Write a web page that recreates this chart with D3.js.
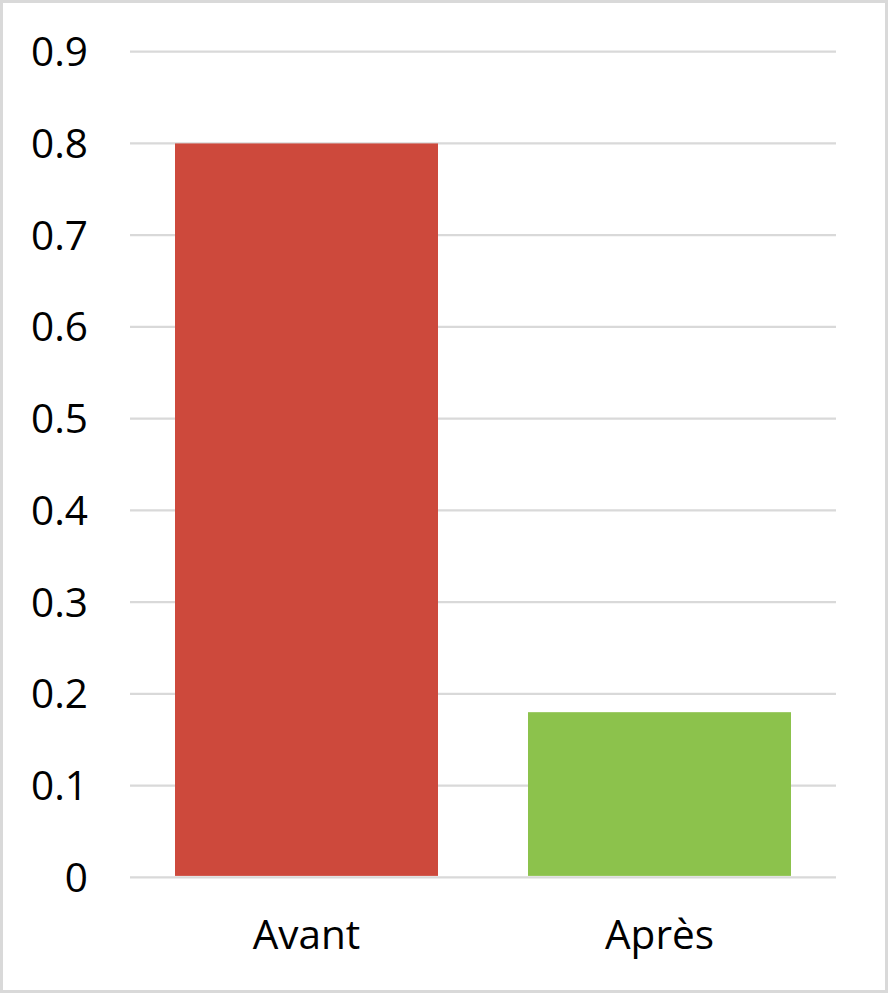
<!DOCTYPE html>
<html>
<head>
<meta charset="utf-8">
<script src="https://cdn.jsdelivr.net/npm/d3@7"></script>
<style>
  html, body { margin: 0; padding: 0; background: #fff; }
  svg { display: block; }
  text { font-family: "Open Sans", sans-serif; fill: #000; }
</style>
</head>
<body>
<svg id="chart" width="888" height="993"></svg>
<script>
const categories = ["Avant", "Après"];
const values = [0.8, 0.18];
const colors = ["#CD493C", "#8CC24C"];
const yTicks = [0, 0.1, 0.2, 0.3, 0.4, 0.5, 0.6, 0.7, 0.8, 0.9];

(function () {
const svg = d3.select("#chart");
const W = 888, H = 993;

// outer border
svg.append("rect")
  .attr("x", 1.5).attr("y", 1.5)
  .attr("width", W - 3).attr("height", H - 3)
  .attr("fill", "#fff")
  .attr("stroke", "#D9D9D9").attr("stroke-width", 3);

const mLeft = 130, mRight = 836, mTop = 51.7, mBottom = 877.3;

const y = d3.scaleLinear().domain([0, 0.9]).range([mBottom, mTop]);
const x = d3.scaleBand().domain(categories).range([mLeft, mRight]).paddingInner(0.255).paddingOuter(0.1275);

// gridlines
svg.append("g")
  .selectAll("line")
  .data(yTicks)
  .join("line")
  .attr("x1", mLeft).attr("x2", mRight)
  .attr("y1", d => y(d)).attr("y2", d => y(d))
  .attr("stroke", "#D9D9D9").attr("stroke-width", 2.2);

// bars
svg.append("g")
  .selectAll("rect")
  .data(categories)
  .join("rect")
  .attr("x", d => x(d))
  .attr("width", x.bandwidth())
  .attr("y", (d, i) => y(values[i]))
  .attr("height", (d, i) => y(0) - 1.4 - y(values[i]))
  .attr("fill", (d, i) => colors[i]);

// y axis labels
svg.append("g")
  .selectAll("text")
  .data(yTicks)
  .join("text")
  .attr("x", 88)
  .attr("y", d => y(d))
  .attr("dy", "0.36em")
  .attr("text-anchor", "end")
  .attr("font-size", 40.5)
  .text(d => d3.format("")(d));

// x axis labels
svg.append("g")
  .selectAll("text")
  .data(categories)
  .join("text")
  .attr("x", d => x(d) + x.bandwidth() / 2)
  .attr("y", 949)
  .attr("text-anchor", "middle")
  .attr("font-size", 40.5)
  .text(d => d);
})();
</script>
</body>
</html>
